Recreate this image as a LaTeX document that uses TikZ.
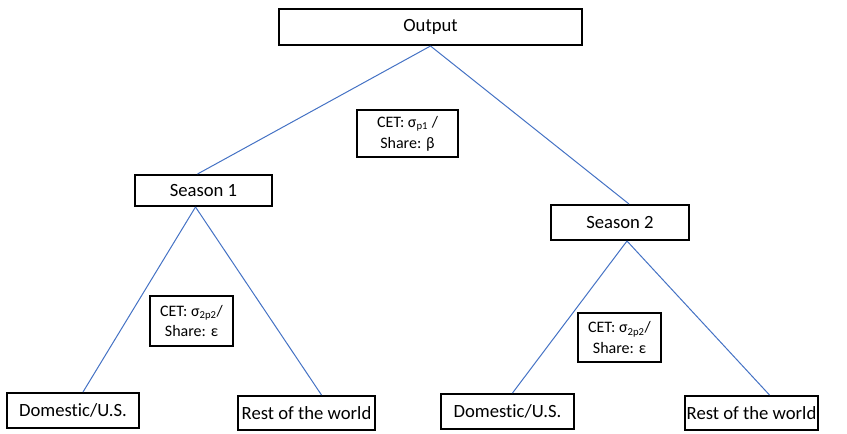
\documentclass[tikz,border=0pt]{standalone}
\usepackage{fontspec}
\setmainfont{Carlito}[Ligatures=NoCommon]
\usetikzlibrary{calc}
\begin{document}
\begin{tikzpicture}[x=0.75pt,y=-0.75pt,
  box/.style={draw=black,line width=1.5pt,inner sep=0pt,font=\fontsize{14}{17}\selectfont},
  cetbox/.style={draw=black,line width=1.5pt,inner sep=0pt,align=center,font=\fontsize{12}{15.5}\selectfont},
  link/.style={draw={rgb,255:red,68;green,114;blue,196},line width=0.75pt}]
\useasboundingbox (0,0) rectangle (847,433);
\node[box,minimum width=303*0.75pt,minimum height=36*0.75pt] (out) at (430.5,27) {Output};
\node[cetbox,minimum width=101*0.75pt,minimum height=47*0.75pt] (cet1) at (407.5,133.5) {CET: σ\textsubscript{p1} /\\Share: β};
\node[box,minimum width=137*0.75pt,minimum height=31*0.75pt] (s1) at (203.5,190.5) {Season 1};
\node[box,minimum width=138*0.75pt,minimum height=35*0.75pt] (s2) at (620,222.5) {Season 2};
\node[cetbox,minimum width=83*0.75pt,minimum height=50*0.75pt] (cet2) at (191.5,321) {CET: σ\textsubscript{2p2}/\\Share: ε};
\node[cetbox,minimum width=83*0.75pt,minimum height=49*0.75pt] (cet3) at (619.5,337.5) {CET: σ\textsubscript{2p2}/\\Share: ε};
\node[box,minimum width=132*0.75pt,minimum height=35*0.75pt] (d1) at (73,410.5) {Domestic/U.S.};
\node[box,minimum width=137*0.75pt,minimum height=34*0.75pt] (r1) at (306.5,413) {Rest of the world};
\node[box,minimum width=133*0.75pt,minimum height=35*0.75pt] (d2) at (507.5,411.5) {Domestic/U.S.};
\node[box,minimum width=133*0.75pt,minimum height=34*0.75pt] (r2) at (751.5,413) {Rest of the world};
\draw[link] (out.south) -- ($(s1.north)+(-6,0)$);
\draw[link] (out.south) -- ($(s2.north)+(9,0)$);
\draw[link] ($(s1.south)+(-8,0)$) -- ($(d1.north)+(10,0)$);
\draw[link] ($(s1.south)+(-8,0)$) -- ($(r1.north)+(15,0)$);
\draw[link] ($(s2.south)+(7,0)$) -- ($(d2.north)+(5,0)$);
\draw[link] ($(s2.south)+(7,0)$) -- ($(r2.north)+(18,0)$);
\end{tikzpicture}
\end{document}
